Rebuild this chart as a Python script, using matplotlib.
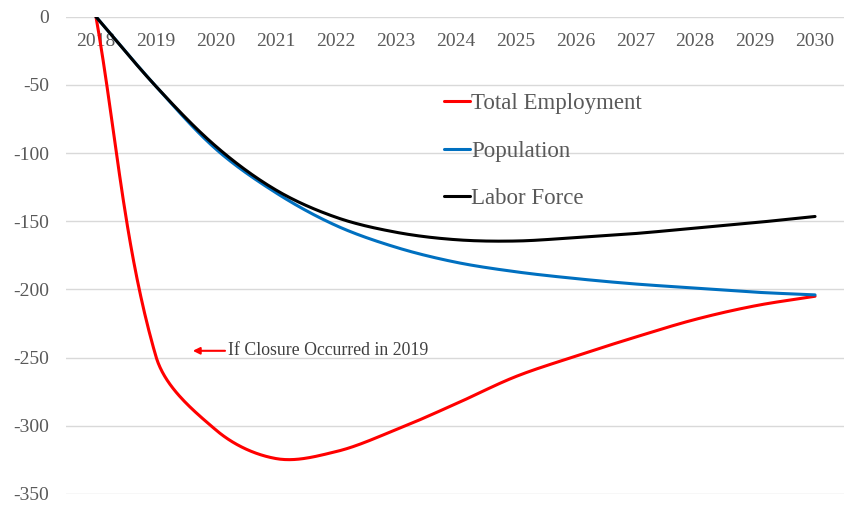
import numpy as np
import matplotlib
matplotlib.use("Agg")
import matplotlib.pyplot as plt

plt.rcParams["font.family"] = ["Liberation Serif", "DejaVu Serif"]
plt.rcParams["axes.unicode_minus"] = False

years = [2018, 2019, 2020, 2021, 2022, 2023, 2024, 2025, 2026, 2027, 2028, 2029, 2030]
total_employment = [0, -249, -303, -324, -319, -303, -284, -264, -249, -235, -222, -212, -205]
population = [0, -51, -97, -129, -153, -169, -180, -187, -192, -196, -199, -202, -204]
labor_force = [0, -51, -95, -127, -147, -158, -163.5, -164.5, -162, -159, -155, -151, -146.5]

y_ticks = [0, -50, -100, -150, -200, -250, -300, -350]
note_text = "If Closure Occurred in 2019"
note_year, note_value = 2019.57, -245


def smooth(x, y, sx=60.0, sy=1.364, n=40):
    # Excel-like smoothed line: Bezier segments whose handles follow the
    # neighbour direction and scale with each segment's on-screen length
    P = np.column_stack([np.asarray(x, float) * sx, np.asarray(y, float) * sy])
    ext = np.vstack([2 * P[0] - P[1], P, 2 * P[-1] - P[-2]])
    t = np.linspace(0, 1, n)[:, None]
    out = []
    for i in range(len(P) - 1):
        a, b = P[i], P[i + 1]
        seg = np.linalg.norm(b - a)
        da = ext[i + 2] - ext[i]
        db = ext[i + 3] - ext[i + 1]
        c1 = a + da / np.linalg.norm(da) * seg / 3
        c2 = b - db / np.linalg.norm(db) * seg / 3
        out.append((1 - t) ** 3 * a + 3 * (1 - t) ** 2 * t * c1
                   + 3 * (1 - t) * t ** 2 * c2 + t ** 3 * b)
    pts = np.vstack(out)
    return pts[:, 0] / sx, pts[:, 1] / sy


fig = plt.figure(figsize=(8.45, 5.08), dpi=100)
ax = fig.add_axes([0.0781, 0.0276, 0.9219, 0.9395])

series = [
    (total_employment, "#FF0000", "Total Employment"),
    (population, "#0070C0", "Population"),
    (labor_force, "#000000", "Labor Force"),
]
for values, color, label in series:
    lx, ly = smooth(years, values)
    ax.plot(lx, ly, color=color, lw=2.2, label=label, solid_capstyle="round")

ax.set_xlim(2017.5, 2030.5)
ax.set_ylim(-350, 0)
ax.set_yticks(y_ticks)
ax.set_xticks(years)
ax.yaxis.grid(True, color="#d9d9d9", lw=1)
ax.set_axisbelow(True)

for side in ["left", "right", "top", "bottom"]:
    ax.spines[side].set_visible(False)
ax.spines["bottom"].set_position(("data", 0))

ax.tick_params(axis="y", length=0, pad=12, labelsize=14, labelcolor="#595959")
ax.tick_params(axis="x", length=0, pad=12, labelsize=14, labelcolor="#595959")

ax.annotate(
    "", xy=(note_year, note_value), xytext=(note_year + 0.63, note_value),
    arrowprops=dict(arrowstyle="-|>", color="#FF0000", lw=1.5, mutation_scale=10),
)
ax.text(note_year + 0.63, note_value, note_text, fontsize=12.8, color="#404040",
        va="center", ha="left")

ax.legend(
    loc="upper left", bbox_to_anchor=(0.459, 0.884), frameon=False,
    fontsize=16.5, handlelength=1.13, handletextpad=0.05, labelspacing=1.17,
    labelcolor="#595959",
)

fig.savefig("out.png", dpi=100)
